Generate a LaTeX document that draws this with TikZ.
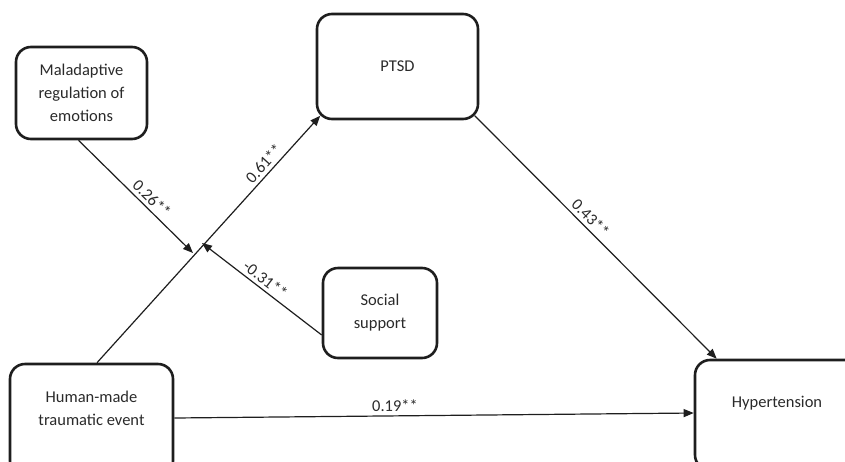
\documentclass[tikz,border=0pt]{standalone}
\usepackage{fontspec}
\setmainfont{Carlito}
\usetikzlibrary{arrows.meta,calc}
\definecolor{ink}{HTML}{1E1E1E}
\definecolor{txt}{HTML}{2A2A2A}
\tikzset{
  box/.style={draw=ink, line width=2.6pt, rounded corners=15pt, inner sep=0pt},
  lbl/.style={text=txt, font=\fontsize{16.5}{23}\selectfont, align=center},
  conn/.style={draw=ink, line width=1.2pt},
  arr/.style={conn, -{Triangle[length=10pt,width=8pt]}},
  rarr/.style={conn, {Triangle[length=10pt,width=8pt]}-},
  coef/.style={text=txt, font=\fontsize{16.5}{20}\selectfont, sloped, above, inner sep=3.5pt}
}
\begin{document}
\begin{tikzpicture}[x=1pt,y=-1pt]
\useasboundingbox (0,0) rectangle (845,461);
\node[box, lbl, minimum width=131pt, minimum height=92pt] (mal) at (81.5,93) {Maladaptive\\regulation of\\emotions};
\node[box, lbl, minimum width=161pt, minimum height=105pt] (ptsd) at (397.5,66.5) {PTSD};
\node[box, lbl, minimum width=114pt, minimum height=90pt] (soc) at (380,313) {Social\\support};
\node[box, minimum width=163pt, minimum height=112pt] (hum) at (91.5,420) {};
\node[lbl] (humt) at (91.5,408) {Human-made\\traumatic event};
\node[box, minimum width=175pt, minimum height=110pt] (hyp) at (782.5,415) {};
\node[lbl] (hypt) at (777,403) {Hypertension};
\coordinate (hs) at ($(hum.north)+(5.5,0)$);
\coordinate (pc) at ($(ptsd.south west)+(4.5,-4.5)$);
\coordinate (j1) at (193,253);
\coordinate (j2) at (202,243);
\draw[arr] (hs) -- node[coef, pos=0.78] {0.61**} (pc);
\draw[arr] ($(mal.south)+(-3,0)$) -- node[coef, pos=0.58] {0.26**} (j1);
\draw[rarr] (j2) -- node[coef, pos=0.48] {-0.31**} ($(soc.west)+(0,22)$);
\draw[arr] ($(ptsd.south east)+(-4.5,-4.5)$) -- node[coef, pos=0.45] {0.43**} ($(hyp.north west)+(23,0)$);
\draw[arr] ($(hum.east)+(0,-2)$) -- node[coef, pos=0.425] {0.19**} ($(hyp.west)+(0,-2)$);
\end{tikzpicture}
\end{document}
